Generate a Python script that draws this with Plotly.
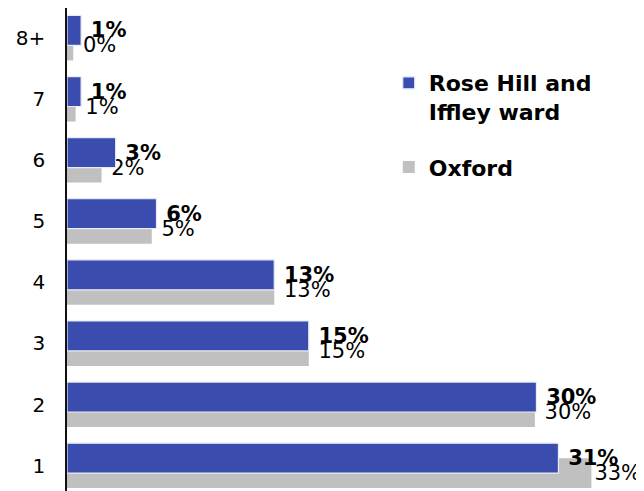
import plotly.graph_objects as go

categories = ["1", "2", "3", "4", "5", "6", "7", "8+"]
rose_hill = [31.3, 29.9, 15.4, 13.2, 5.7, 3.1, 0.9, 0.9]
oxford = [33.4, 29.8, 15.4, 13.2, 5.4, 2.2, 0.55, 0.4]
series_names = ["Rose Hill and<br>Iffley ward", "Oxford"]

BLUE = "#3A4CAE"
GREY = "#C0C0C0"
FONT = "DejaVu Sans, Liberation Sans, sans-serif"
NB = "\u00a0"

# the page body adds an 8px offset; margins/ranges compensate so the plot
# area lands at the reference's pixel positions
X_MAX = 37.26
Y_RANGE = [-0.546, 7.49]

fig = go.Figure()

grey_templates = [NB + "%{x:.0f}%" if v < 32 else "%{x:.0f}%" for v in oxford]

fig.add_trace(go.Bar(
    y=categories, x=oxford, orientation="h", name="<b>" + series_names[1] + "</b>",
    legendgroup="oxford", legendrank=2,
    marker=dict(color=GREY, line=dict(width=0)),
    width=0.49, offset=-0.368,
    texttemplate=grey_templates, textposition="outside", constraintext="none",
    textfont=dict(family=FONT, size=21, color="black"),
    cliponaxis=False,
))
fig.add_trace(go.Bar(
    y=categories, x=rose_hill, orientation="h", name="<b>" + series_names[0] + "</b>",
    legendgroup="rose", legendrank=1,
    marker=dict(color=BLUE, line=dict(width=1.2, color="#E8ECF8")),
    width=0.49, offset=-0.122,
    texttemplate=NB + "<b>%{x:.0f}%</b>", textposition="outside", constraintext="none",
    textfont=dict(family=FONT, size=21, color="black"),
    cliponaxis=False,
))

fig.update_layout(
    width=644, height=491,
    margin=dict(l=59, r=0, t=0, b=0, autoexpand=False),
    paper_bgcolor="white", plot_bgcolor="white",
    barmode="overlay",
    font=dict(family=FONT, size=20, color="black"),
    showlegend=True,
    legend=dict(
        x=0.55, y=0.89, xanchor="left", yanchor="top",
        traceorder="grouped", valign="top",
        font=dict(family=FONT, size=22, color="black"),
        tracegroupgap=24, bgcolor="rgba(0,0,0,0)",
    ),
    xaxis=dict(range=[0, X_MAX], visible=False, showgrid=False, zeroline=False),
    yaxis=dict(
        type="category", categoryorder="array", categoryarray=categories,
        range=Y_RANGE, automargin=False,
        showline=True, linecolor="#111111", linewidth=1.5,
        showgrid=False, zeroline=False, ticks="",
        ticklabelstandoff=16,
        tickfont=dict(family=FONT, size=20, color="black"),
    ),
)

fig.write_html("out.html")
